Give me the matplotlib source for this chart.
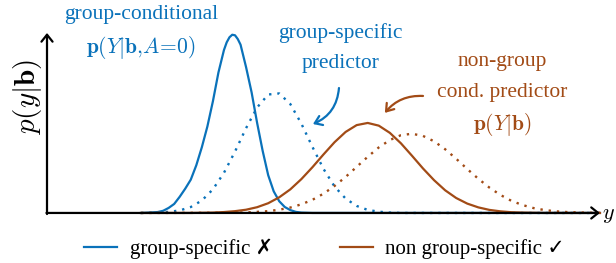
import matplotlib
matplotlib.use("Agg")
import matplotlib.pyplot as plt

plt.rcParams['font.family'] = ['Liberation Serif', 'DejaVu Sans']
plt.rcParams['mathtext.fontset'] = 'cm'

blue = '#0a72ba'
brown = '#a24b16'

# group-specific, A=0 (solid blue)
bs_x = [1.7, 2.0, 2.1, 2.2, 2.3, 2.4, 2.5, 2.6, 2.7, 2.8, 2.9, 3.0, 3.1, 3.2, 3.25,
        3.3, 3.35, 3.4, 3.45, 3.5, 3.6, 3.7, 3.8, 3.9, 4.0, 4.1, 4.2, 4.3, 4.4, 4.5,
        4.6, 4.8, 10.0]
bs_y = [0, 0.005, 0.012, 0.028, 0.05, 0.09, 0.135, 0.185, 0.265, 0.365, 0.48, 0.62,
        0.78, 0.905, 0.948, 0.976, 0.99, 0.987, 0.966, 0.935, 0.81, 0.67, 0.50, 0.345,
        0.21, 0.12, 0.065, 0.033, 0.016, 0.006, 0.002, 0, 0]

# group-specific predictor (dotted blue)
bd_x = [1.7, 2.0, 2.2, 2.4, 2.6, 2.8, 3.0, 3.2, 3.4, 3.6, 3.8, 4.0, 4.2, 4.4, 4.6,
        4.8, 5.0, 5.2, 5.4, 5.6, 5.8, 6.0, 6.2, 6.4, 10.0]
bd_y = [0, 0.002, 0.006, 0.014, 0.033, 0.069, 0.131, 0.223, 0.341, 0.471, 0.586,
        0.658, 0.664, 0.605, 0.496, 0.367, 0.245, 0.147, 0.080, 0.039, 0.017, 0.007,
        0.002, 0, 0]

# non-group conditional p(Y|b) (solid brown)
rs_x = [1.7, 2.6, 2.8, 3.0, 3.2, 3.4, 3.6, 3.8, 4.0, 4.2, 4.4, 4.6, 4.8, 5.0, 5.2,
        5.4, 5.6, 5.8, 6.0, 6.2, 6.4, 6.6, 6.8, 7.0, 7.2, 7.4, 7.6, 7.8, 8.0, 8.2,
        8.4, 8.6, 8.8, 9.0, 10.0]
rs_y = [0, 0.000, 0.001, 0.002, 0.005, 0.010, 0.018, 0.032, 0.054, 0.087, 0.131,
        0.188, 0.254, 0.325, 0.393, 0.450, 0.488, 0.500, 0.485, 0.445, 0.387, 0.318,
        0.247, 0.182, 0.126, 0.083, 0.052, 0.031, 0.017, 0.009, 0.004, 0.002, 0.001,
        0.000, 0]

# non-group predictor (dotted brown)
rd_x = [1.7, 3.2, 3.4, 3.6, 3.8, 4.0, 4.2, 4.4, 4.6, 4.8, 5.0, 5.2, 5.4, 5.6, 5.8,
        6.0, 6.2, 6.4, 6.6, 6.8, 7.0, 7.2, 7.4, 7.6, 7.8, 8.0, 8.2, 8.4, 8.6, 8.8,
        9.0, 9.2, 9.4, 9.6, 9.8, 10.0]
rd_y = [0, 0.001, 0.001, 0.003, 0.006, 0.010, 0.018, 0.030, 0.048, 0.073, 0.107,
        0.150, 0.200, 0.256, 0.312, 0.364, 0.405, 0.432, 0.440, 0.428, 0.398, 0.354,
        0.301, 0.244, 0.190, 0.141, 0.100, 0.067, 0.044, 0.027, 0.016, 0.009, 0.005,
        0.003, 0.001, 0.001]

legend_labels = ['group-specific \u2717', 'non group-specific \u2713']

fig = plt.figure(figsize=(6.16, 2.63), dpi=100)
ax = fig.add_axes([0, 0, 1, 1])
ax.set_xlim(-0.85, 10.29)
ax.set_ylim(-0.278, 1.183)
ax.axis('off')

# axes with arrows
arr = dict(arrowstyle='->,head_length=0.5,head_width=0.4', lw=1.6, color='black',
           shrinkA=0, shrinkB=0)
ax.annotate('', xy=(0, 1.0), xytext=(0, -0.006), arrowprops=arr)
ax.annotate('', xy=(10.0, 0), xytext=(-0.01, 0), arrowprops=arr)

dots = (0, (1, 2.5))
ax.plot(bs_x, bs_y, color=blue, lw=1.6, solid_joinstyle='round', label=legend_labels[0])
ax.plot(bd_x, bd_y, color=blue, lw=1.7, ls=dots)
ax.plot(rs_x, rs_y, color=brown, lw=1.6, solid_joinstyle='round', label=legend_labels[1])
ax.plot(rd_x, rd_y, color=brown, lw=1.7, ls=dots)

ax.text(10.16, -0.015, '$y$', fontsize=16, ha='center', va='center')
ax.text(-0.36, 0.645, r'$p(y|\mathbf{b})$', fontsize=21, rotation=90,
        ha='center', va='center')

fs = 15.5
ax.text(1.70, 1.10, 'group-conditional', color=blue, fontsize=fs, ha='center', va='center')
ax.text(1.70, 0.917, r'$\mathbf{p}(Y|\mathbf{b}{,}A\!=\!0)$', color=blue, fontsize=fs,
        ha='center', va='center')
ax.text(5.30, 1.0, 'group-specific', color=blue, fontsize=fs, ha='center', va='center')
ax.text(5.30, 0.828, 'predictor', color=blue, fontsize=fs, ha='center', va='center')
ax.annotate('', xy=(4.81, 0.494), xytext=(5.28, 0.694),
            arrowprops=dict(arrowstyle='->,head_length=0.5,head_width=0.35', lw=1.6,
                            color=blue, shrinkA=0, shrinkB=0,
                            connectionstyle='arc3,rad=-0.3'))

ax.text(8.23, 0.844, 'non-group', color=brown, fontsize=fs, ha='center', va='center')
ax.text(8.23, 0.667, 'cond. predictor', color=brown, fontsize=fs, ha='center', va='center')
ax.text(8.23, 0.494, r'$\mathbf{p}(Y|\mathbf{b})$', color=brown, fontsize=fs,
        ha='center', va='center')
ax.annotate('', xy=(6.11, 0.556), xytext=(6.80, 0.65),
            arrowprops=dict(arrowstyle='->,head_length=0.5,head_width=0.35', lw=1.6,
                            color=brown, shrinkA=0, shrinkB=0,
                            connectionstyle='arc3,rad=0.25'))

ax.legend(loc='center', bbox_to_anchor=(0.527, 0.053), bbox_transform=fig.transFigure,
          ncol=2, frameon=False, fontsize=15, handlelength=1.6, handletextpad=0.6,
          columnspacing=3.2, borderpad=0)

fig.savefig('out.png', dpi=100)
